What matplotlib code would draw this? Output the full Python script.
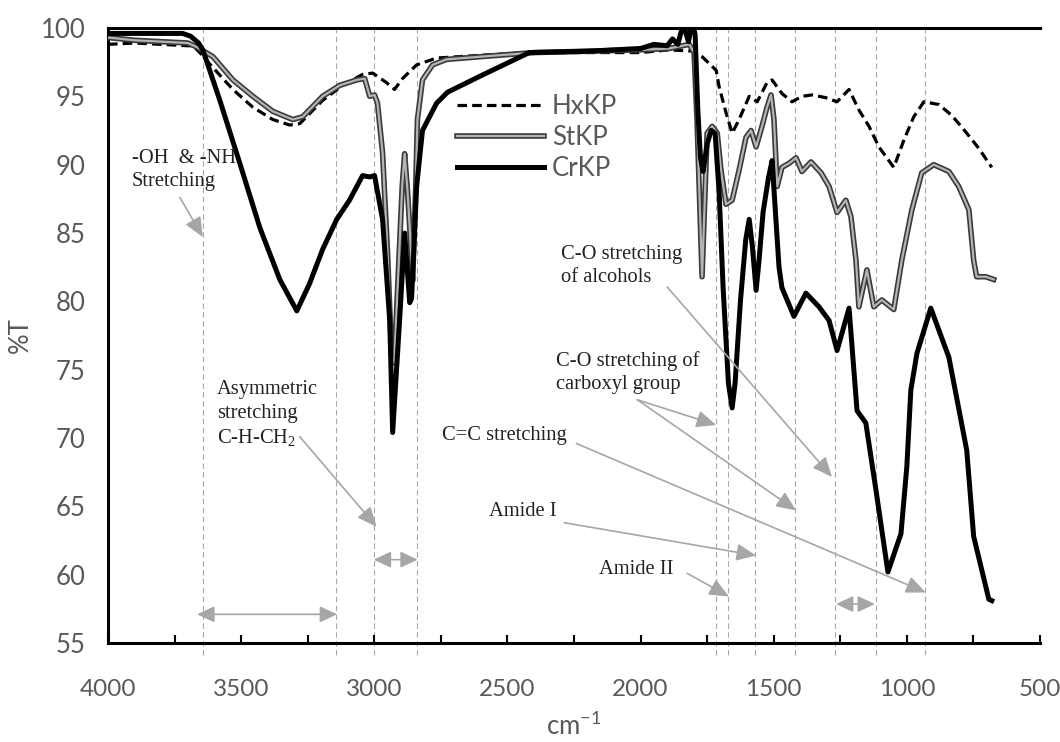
import numpy as np
import matplotlib
matplotlib.use("Agg")
import matplotlib.pyplot as plt
import matplotlib.patheffects as pe
from matplotlib.ticker import MultipleLocator

# FTIR spectra, wavenumber (cm-1) vs %T
hx_wn = [4000, 3900, 3800, 3700, 3681, 3655, 3606, 3531, 3456, 3381, 3318, 3280, 3194, 3119,
         3044, 3006, 2954, 2924, 2894, 2841, 2766, 2600, 2418, 2200, 2000, 1893, 1800, 1769,
         1716, 1705, 1679, 1656, 1630, 1592, 1562, 1525, 1506, 1469, 1431, 1394, 1356, 1304,
         1262, 1217, 1180, 1142, 1105, 1049, 1011, 974, 936, 880, 831, 779, 730, 681]
hx_t = [98.8, 98.9, 98.8, 98.7, 98.7, 98.2, 97.1, 95.5, 94.2, 93.3, 92.9, 93.0, 94.7, 95.8,
        96.6, 96.7, 96.0, 95.5, 96.3, 97.3, 97.8, 98.0, 98.2, 98.2, 98.2, 98.4, 98.3, 97.9,
        96.9, 95.7, 93.8, 92.3, 93.3, 95.0, 94.6, 96.0, 96.2, 95.2, 94.6, 95.0, 95.1, 94.9,
        94.6, 95.5, 94.0, 92.8, 91.3, 89.8, 91.8, 93.5, 94.6, 94.4, 93.6, 92.4, 91.2, 89.8]

st_wn = [4000, 3900, 3800, 3700, 3666, 3606, 3531, 3456, 3381, 3306, 3269, 3194, 3130, 3066,
         3036, 3017, 2999, 2988, 2969, 2950, 2935, 2925, 2910, 2895, 2886, 2875, 2867, 2856,
         2845, 2838, 2819, 2781, 2729, 2600, 2400, 2200, 2000, 1893, 1817, 1799, 1788, 1769,
         1750, 1731, 1712, 1698, 1679, 1656, 1630, 1604, 1585, 1566, 1544, 1525, 1510, 1499,
         1487, 1469, 1442, 1416, 1394, 1360, 1322, 1292, 1262, 1229, 1210, 1191, 1180, 1150,
         1124, 1094, 1049, 1019, 981, 944, 899, 842, 805, 767, 749, 738, 704, 674]
st_t = [99.3, 99.1, 99.0, 98.9, 98.6, 97.9, 96.2, 95.0, 93.9, 93.3, 93.5, 95.0, 95.8, 96.2,
        96.3, 95.0, 95.1, 94.5, 90.9, 83.5, 76.0, 75.5, 82.0, 88.5, 90.8, 88.0, 85.4, 81.5,
        88.0, 93.3, 96.2, 97.3, 97.7, 97.9, 98.2, 98.3, 98.4, 98.5, 98.8, 98.2, 93.3, 81.8,
        92.3, 92.8, 92.3, 89.6, 87.1, 87.4, 89.6, 92.0, 92.5, 91.3, 92.8, 94.2, 95.1, 93.3,
        88.4, 89.8, 90.1, 90.5, 89.5, 90.2, 89.4, 88.4, 86.5, 87.4, 86.2, 83.0, 79.6, 82.3,
        79.6, 80.1, 79.4, 83.0, 86.7, 89.4, 90.0, 89.5, 88.4, 86.7, 83.0, 81.8, 81.8, 81.6]

cr_wn = [4000, 3900, 3800, 3720, 3690, 3660, 3644, 3580, 3505, 3430, 3355, 3291, 3243, 3194,
         3141, 3093, 3044, 3017, 2999, 2969, 2942, 2931, 2905, 2886, 2867, 2860, 2841, 2819,
         2766, 2725, 2600, 2418, 2200, 2000, 1950, 1900, 1880, 1860, 1840, 1820, 1805, 1795,
         1785, 1775, 1765, 1750, 1735, 1720, 1705, 1690, 1670, 1656, 1645, 1625, 1605, 1592,
         1580, 1566, 1555, 1540, 1520, 1506, 1495, 1480, 1469, 1424, 1379, 1330, 1292, 1262,
         1217, 1187, 1154, 1116, 1071, 1022, 1000, 985, 962, 910, 842, 775, 749, 692, 681]
cr_t = [99.6, 99.6, 99.6, 99.6, 99.4, 98.9, 98.4, 94.7, 90.1, 85.4, 81.6, 79.3, 81.3, 83.8,
        86.0, 87.4, 89.2, 89.1, 89.2, 86.0, 78.6, 70.4, 78.6, 85.0, 79.9, 80.2, 88.4, 92.5,
        94.5, 95.3, 96.5, 98.2, 98.3, 98.5, 98.8, 98.7, 99.2, 98.8, 100.3, 99.0, 100.5, 99.5,
        94.0, 90.5, 89.5, 91.5, 92.5, 92.3, 88.0, 81.0, 74.0, 72.2, 74.0, 80.0, 84.5, 86.0,
        84.0, 80.8, 83.0, 86.5, 89.0, 90.3, 87.0, 82.5, 81.0, 78.9, 80.6, 79.6, 78.6, 76.4,
        79.5, 72.0, 71.1, 66.2, 60.2, 63.0, 67.9, 73.5, 76.2, 79.5, 75.9, 69.1, 62.8, 58.2, 58.1]

band_lines = [3645, 3145, 3000, 2840, 1715, 1670, 1570, 1420, 1270, 1115, 930]

grey_txt = "#595959"
arrow_c = "#a6a6a6"
sans = ["Lato", "DejaVu Sans"]
serif = ["Liberation Serif", "DejaVu Serif"]
fs = 18.5

fig = plt.figure(figsize=(10.6, 7.42), dpi=100)
ax = fig.add_axes([0.1019, 0.1334, 0.8792, 0.8289])

for w in band_lines:
    ax.axvline(w, ymin=-0.02, ymax=1, color="#a8a8a8", lw=0.8, ls=(0, (5, 3)), clip_on=False, zorder=1)

l_hx, = ax.plot(hx_wn, hx_t, color="black", lw=2.3, dashes=(3.0, 1.6), zorder=3)
l_st, = ax.plot(st_wn, st_t, color="#b4b4b4", lw=1.6, zorder=3,
                path_effects=[pe.Stroke(linewidth=4.0, foreground="#3a3a3a"), pe.Normal()])
l_cr, = ax.plot(cr_wn, cr_t, color="black", lw=3.6, zorder=4)

ax.set_xlim(4000, 500)
ax.set_ylim(55, 100)
ax.xaxis.set_major_locator(MultipleLocator(500))
ax.xaxis.set_minor_locator(MultipleLocator(250))
ax.yaxis.set_major_locator(MultipleLocator(5))

for s in ["left", "bottom", "top"]:
    ax.spines[s].set_linewidth(2.2)
ax.spines["right"].set_visible(False)

ax.tick_params(axis="x", which="both", direction="in", length=6, width=1.5, pad=26,
               labelsize=17.5, labelcolor=grey_txt, top=False)
ax.tick_params(axis="y", length=0, pad=16, labelsize=fs, labelcolor=grey_txt)
for lab in ax.get_xticklabels() + ax.get_yticklabels():
    lab.set_family(sans)

ax.set_xlabel("cm$^\\mathregular{-1}$", fontsize=fs, color=grey_txt, family=sans, labelpad=8)
ax.set_ylabel("%T", fontsize=fs, color=grey_txt, family=sans, labelpad=6)

leg = ax.legend([l_hx, l_st, l_cr], ["HxKP", "StKP", "CrKP"], loc="upper left",
                bbox_to_anchor=(0.3605, 0.913), frameon=False,
                handlelength=3.4, handletextpad=0.3, labelspacing=0.22, borderpad=0,
                prop={"family": sans, "size": fs})
for t in leg.get_texts():
    t.set_color(grey_txt)

tkw = dict(fontsize=14.8, family=serif, color="#222222", linespacing=1.3, ha="left", va="center", zorder=5)
ax.text(3910, 89.6, "-OH  & -NH\nStretching", **tkw)
ax.text(3591, 71.7, "Asymmetric\nstretching\nC-H-CH$_\\mathregular{2}$", **tkw)
ax.text(2747, 70.15, "C=C stretching", **tkw)
ax.text(2568, 64.6, "Amide I", **tkw)
ax.text(2155, 60.4, "Amide II", **tkw)
ax.text(2316, 74.8, "C-O stretching of\ncarboxyl group", **tkw)
ax.text(2297, 82.6, "C-O stretching\nof alcohols", **tkw)

akw = dict(arrowstyle="-|>,head_length=0.8,head_width=0.35", color=arrow_c, lw=1.2,
           mutation_scale=15, shrinkA=0, shrinkB=0)
arrows = [((3730, 87.6), (3644, 84.7)),
          ((3280, 70.1), (2991, 63.5)),
          ((2241, 69.6), (929, 58.7)),
          ((2286, 63.8), (1566, 61.4)),
          ((1825, 60.1), (1668, 58.4)),
          ((2012, 72.8), (1716, 70.95)),
          ((2012, 72.8), (1416, 64.7)),
          ((1900, 81.05), (1281, 67.15))]
for (x0, y0), (x1, y1) in arrows:
    ax.annotate("", xy=(x1, y1), xytext=(x0, y0), arrowprops=akw, zorder=5)

dkw = dict(akw)
dkw["arrowstyle"] = "<|-|>,head_length=0.7,head_width=0.33"
dkw["mutation_scale"] = 15
spans = [((3665, 57.1), (3140, 57.1)),
         ((3002, 61.1), (2837, 61.1)),
         ((1266, 57.85), (1120, 57.85))]
for (x0, y0), (x1, y1) in spans:
    ax.annotate("", xy=(x1, y1), xytext=(x0, y0), arrowprops=dkw, zorder=5)

fig.savefig("out.png", dpi=100)
